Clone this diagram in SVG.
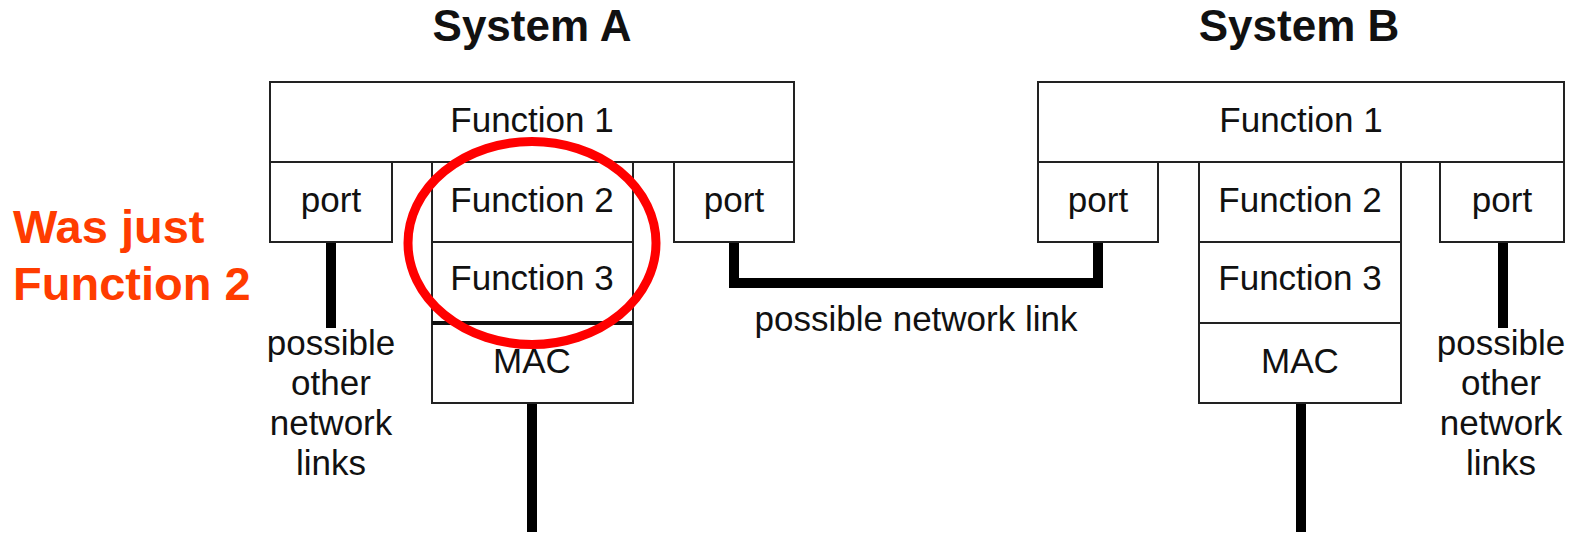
<svg xmlns="http://www.w3.org/2000/svg" width="1573" height="533" viewBox="0 0 1573 533">
<style>
.box{fill:#fff;stroke:#222;stroke-width:2}
.t{font-family:"Liberation Sans",Arial,sans-serif;font-size:35px;fill:#111;text-anchor:middle}
.title{font-family:"Liberation Sans",Arial,sans-serif;font-size:44px;font-weight:bold;fill:#111;text-anchor:middle}
.note{font-family:"Liberation Sans",Arial,sans-serif;font-size:47px;font-weight:bold;fill:#FF3C00}
.wire{fill:none;stroke:#000;stroke-width:10}
</style>
<rect width="1573" height="533" fill="#fff"/>
<text class="title" x="532" y="41">System A</text>
<text class="title" x="1299" y="41">System B</text>
<g id="connectors">
<path class="wire" d="M331,242 V328"/>
<path class="wire" d="M532,403 V532"/>
<path class="wire" d="M734,242 V283 H1098 V242"/>
<path class="wire" d="M1301,403 V532"/>
<path class="wire" d="M1503,242 V328"/>
</g>
<g id="a-function1"><rect class="box" x="270" y="82" width="524" height="80"/><text class="t" x="532" y="132">Function 1</text></g>
<g id="a-port-left"><rect class="box" x="270" y="162" width="122" height="80"/><text class="t" x="331" y="212">port</text></g>
<g id="a-function2"><rect class="box" x="432" y="162" width="201" height="80"/><text class="t" x="532" y="212">Function 2</text></g>
<g id="a-function3"><rect class="box" x="432" y="242" width="201" height="81"/><text class="t" x="532" y="290">Function 3</text></g>
<g id="a-mac"><rect class="box" x="432" y="323" width="201" height="80"/><line x1="432" y1="323" x2="633" y2="323" stroke="#111" stroke-width="4"/><text class="t" x="532" y="373">MAC</text></g>
<g id="a-port-right"><rect class="box" x="674" y="162" width="120" height="80"/><text class="t" x="734" y="212">port</text></g>
<g id="b-function1"><rect class="box" x="1038" y="82" width="526" height="80"/><text class="t" x="1301" y="132">Function 1</text></g>
<g id="b-port-left"><rect class="box" x="1038" y="162" width="120" height="80"/><text class="t" x="1098" y="212">port</text></g>
<g id="b-function2"><rect class="box" x="1199" y="162" width="202" height="80"/><text class="t" x="1300" y="212">Function 2</text></g>
<g id="b-function3"><rect class="box" x="1199" y="242" width="202" height="81"/><text class="t" x="1300" y="290">Function 3</text></g>
<g id="b-mac"><rect class="box" x="1199" y="323" width="202" height="80"/><text class="t" x="1300" y="373">MAC</text></g>
<g id="b-port-right"><rect class="box" x="1440" y="162" width="124" height="80"/><text class="t" x="1502" y="212">port</text></g>
<g id="label-link"><text class="t" x="916" y="331">possible network link</text></g>
<g id="label-a-other"><text class="t" x="331" y="355">possible</text><text class="t" x="331" y="395">other</text><text class="t" x="331" y="435">network</text><text class="t" x="331" y="475">links</text></g>
<g id="label-b-other"><text class="t" x="1501" y="355">possible</text><text class="t" x="1501" y="395">other</text><text class="t" x="1501" y="435">network</text><text class="t" x="1501" y="475">links</text></g>
<g id="highlight"><ellipse cx="532" cy="243" rx="124" ry="101.5" fill="none" stroke="#FF0000" stroke-width="9"/></g>
<g id="note"><text class="note" x="13" y="243">Was just</text><text class="note" x="13" y="300">Function 2</text></g>
</svg>
